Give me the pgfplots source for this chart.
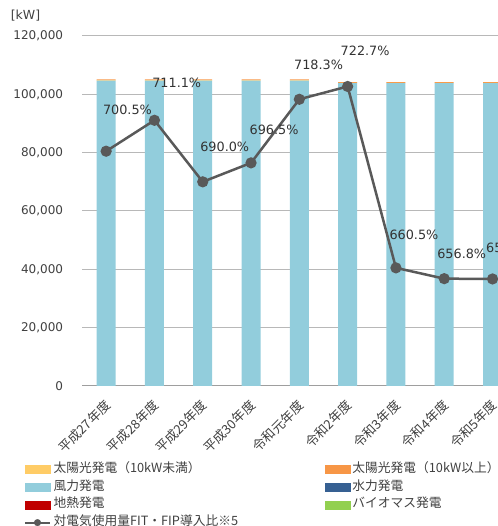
\documentclass[border=0pt]{standalone}
\usepackage{fontspec}
\setmainfont{DejaVu Sans}
\newfontfamily\cjk{Noto Sans CJK JP}
\usepackage{pgfplots}
\usepackage{pgfplotstable}
\pgfplotsset{compat=1.18}
\definecolor{solarS}{HTML}{FFCC66}
\definecolor{solarL}{HTML}{F79646}
\definecolor{wind}{HTML}{92CDDC}
\definecolor{hydro}{HTML}{366092}
\definecolor{geo}{HTML}{C00000}
\definecolor{bio}{HTML}{92D050}
\definecolor{linegray}{HTML}{595959}
\definecolor{txt}{HTML}{404040}
\pgfplotstableread{
x  wind    solarS solarL hydro geo bio
0  104700  200    200    0     0   0
1  104700  200    200    0     0   0
2  104700  200    200    0     0   0
3  104700  200    200    0     0   0
4  104700  200    200    0     0   0
5  103800  150    250    0     0   0
6  103800  150    250    0     0   0
7  103800  150    250    0     0   0
8  103800  150    250    0     0   0
}\bars
\begin{document}
\begin{tikzpicture}
\begin{axis}[
  at={(0,0)}, anchor=south west,
  width=434.7pt, height=350pt, scale only axis,
  xmin=-0.5, xmax=8.5, ymin=0, ymax=120000,
  ybar stacked, bar width=19pt,
  separate axis lines,
  axis x line*=bottom, axis y line*=left,
  y axis line style={draw=none},
  x axis line style={black!38, line width=1pt},
  major tick length=0pt,
  ymajorgrids, grid style={black!28, line width=1pt},
  ytick={0,20000,40000,60000,80000,100000,120000},
  scaled y ticks=false,
  yticklabel style={/pgf/number format/fixed, /pgf/number format/1000 sep={,}, /pgf/number format/assume math mode=true,
    font=\fontsize{12}{14}\selectfont, text=txt, inner sep=0pt, anchor=east, xshift=-18.7pt},
  xtick={0,...,8},
  xticklabels={平成27年度,平成28年度,平成29年度,平成30年度,令和元年度,令和2年度,令和3年度,令和4年度,令和5年度},
  xticklabel style={font=\cjk\fontsize{13}{14}\selectfont, text=txt, rotate=45, anchor=east, inner sep=0pt, xshift=-10.6pt, yshift=-13.4pt},
  legend columns=2,
  legend cell align=left,
  legend style={at={(axis description cs:-0.13343,-0.2206)}, anchor=north west,
    draw=none, fill=none, inner sep=0pt, outer sep=0pt,
    font=\cjk\fontsize{12.75}{14}\selectfont, text=txt,
    nodes={inner xsep=2.5pt, inner ysep=0pt, text height=9pt, text depth=3pt},
    row sep=5.8pt},
]
\addplot[fill=wind, draw=none, forget plot] table[x=x, y=wind] {\bars};
\addplot[fill=solarS, draw=none, forget plot] table[x=x, y=solarS] {\bars};
\addplot[fill=solarL, draw=none, forget plot] table[x=x, y=solarL] {\bars};
\addplot[fill=hydro, draw=none, forget plot] table[x=x, y=hydro] {\bars};
\addplot[fill=geo, draw=none, forget plot] table[x=x, y=geo] {\bars};
\addplot[fill=bio, draw=none, forget plot] table[x=x, y=bio] {\bars};
\addlegendimage{legend image code/.code={\fill[solarS] (0pt,-4pt) rectangle (25pt,4pt);}}
\addlegendentry{\makebox[268.5pt][l]{太陽光発電（10kW未満）}}
\addlegendimage{legend image code/.code={\fill[solarL] (0pt,-4pt) rectangle (25pt,4pt);}}
\addlegendentry{太陽光発電（10kW以上）}
\addlegendimage{legend image code/.code={\fill[wind] (0pt,-4pt) rectangle (25pt,4pt);}}
\addlegendentry{\makebox[268.5pt][l]{風力発電}}
\addlegendimage{legend image code/.code={\fill[hydro] (0pt,-4pt) rectangle (25pt,4pt);}}
\addlegendentry{水力発電}
\addlegendimage{legend image code/.code={\fill[geo] (0pt,-4pt) rectangle (25pt,4pt);}}
\addlegendentry{\makebox[268.5pt][l]{地熱発電}}
\addlegendimage{legend image code/.code={\fill[bio] (0pt,-4pt) rectangle (25pt,4pt);}}
\addlegendentry{バイオマス発電}
\addlegendimage{legend image code/.code={\draw[linegray, line width=2pt] (0pt,0pt) -- (25pt,0pt); \fill[linegray] (12.5pt,0pt) circle (3.3pt);}}
\addlegendentry{\makebox[268.5pt][l]{対電気使用量FIT・FIP導入比※5}}
\end{axis}
\begin{axis}[
  at={(0,0)}, anchor=south west,
  width=434.7pt, height=350pt, scale only axis,
  xmin=-0.5, xmax=8.5, ymin=620, ymax=740,
  hide axis, clip=false,
]
\addplot[linegray, line width=2.5pt, mark=*, mark size=4.3pt, mark options={draw=none, fill=linegray}]
  coordinates {(0,700.5) (1,711.1) (2,690.0) (3,696.5) (4,718.3) (5,722.7) (6,660.5) (7,656.8) (8,656.7)};
\begin{scope}[every node/.style={font=\fontsize{12.8}{14}\selectfont, text=black!80, inner sep=0pt}]
\node[xshift=21.3pt, yshift=41pt] at (axis cs:0,700.5) {700.5\%};
\node[xshift=22.3pt, yshift=37.6pt] at (axis cs:1,711.1) {711.1\%};
\node[xshift=22pt, yshift=35pt] at (axis cs:2,690.0) {690.0\%};
\node[xshift=23pt, yshift=32.7pt] at (axis cs:3,696.5) {696.5\%};
\node[xshift=19.2pt, yshift=34.4pt] at (axis cs:4,718.3) {718.3\%};
\node[xshift=17.5pt, yshift=35.3pt] at (axis cs:5,722.7) {722.7\%};
\node[xshift=18pt, yshift=33pt] at (axis cs:6,660.5) {660.5\%};
\node[xshift=17.5pt, yshift=24.4pt] at (axis cs:7,656.8) {656.8\%};
\node[xshift=18pt, yshift=30.7pt] at (axis cs:8,656.7) {656.7\%};
\end{scope}
\end{axis}
\node[font=\fontsize{12.5}{14}\selectfont, text=txt, inner sep=0pt] at (-56.5pt,370pt) {[kW]};
\pgfresetboundingbox
\useasboundingbox (-82pt,-140pt) rectangle (415pt,386pt);
\end{tikzpicture}
\end{document}
